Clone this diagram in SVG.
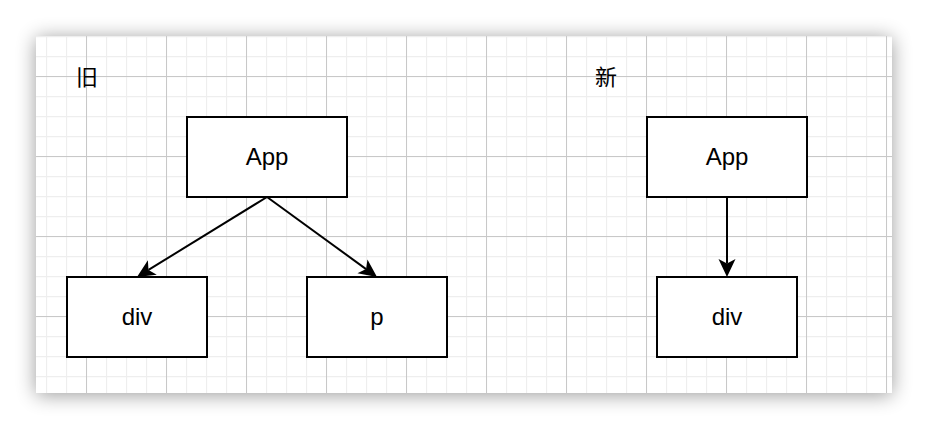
<svg xmlns="http://www.w3.org/2000/svg" width="928" height="430" viewBox="0 0 928 430">
  <defs>
    <filter id="shadow" x="-10%" y="-20%" width="120%" height="140%">
      <feGaussianBlur in="SourceAlpha" stdDeviation="10"/>
      <feOffset dx="0" dy="2" result="b"/>
      <feComponentTransfer><feFuncA type="linear" slope="0.4"/></feComponentTransfer>
      <feMerge><feMergeNode/><feMergeNode in="SourceGraphic"/></feMerge>
    </filter>
    <pattern id="minor" patternUnits="userSpaceOnUse" x="6" y="16" width="20" height="20">
      <path d="M0.5,0 V20 M0,0.5 H20" fill="none" stroke="#eeeeee" stroke-width="1.3"/>
    </pattern>
    <pattern id="major" patternUnits="userSpaceOnUse" x="6" y="-4" width="80" height="80">
      <path d="M0.5,0 V80 M0,0.5 H80" fill="none" stroke="#c8c8c8" stroke-width="1"/>
    </pattern>
    <marker id="arrow" markerUnits="userSpaceOnUse" viewBox="-5 -9 19 18" refX="0" refY="0" markerWidth="19" markerHeight="18" orient="auto" overflow="visible">
      <path d="M13.5,0 L-4.5,-8.5 L0,0 L-4.5,8.5 Z" fill="#000"/>
    </marker>
    <style>
      .node rect { fill: #ffffff; stroke: #000000; stroke-width: 2; }
      .label { font-family: "Liberation Sans", Arial, sans-serif; font-size: 24px; fill: #000; text-anchor: middle; }
      .title { font-family: "Liberation Sans", "Noto Sans CJK SC", sans-serif; font-size: 22px; fill: #000; }
      .edge { fill: none; stroke: #000; stroke-width: 2; marker-end: url(#arrow); }
    </style>
  </defs>

  <rect x="0" y="0" width="928" height="430" fill="#ffffff"/>
  <g id="canvas">
    <rect x="36" y="36" width="856" height="357" fill="#ffffff" filter="url(#shadow)"/>
    <rect x="36" y="36" width="856" height="357" fill="url(#minor)"/>
    <rect x="36" y="36" width="856" height="357" fill="url(#major)"/>
  </g>

  <text class="title" x="76" y="85">旧</text>
  <text class="title" x="595" y="85">新</text>

  <g id="connectors">
    <line class="edge" x1="267" y1="197" x2="148.5" y2="269.9"/>
    <line class="edge" x1="267" y1="197" x2="366.1" y2="269.1"/>
    <line class="edge" x1="727" y1="197" x2="727" y2="263.5"/>
  </g>

  <g id="app-old" class="node">
    <rect x="187" y="117" width="160" height="80"/>
    <text class="label" x="267" y="165">App</text>
  </g>
  <g id="div-old" class="node">
    <rect x="67" y="277" width="140" height="80"/>
    <text class="label" x="137" y="325">div</text>
  </g>
  <g id="p-old" class="node">
    <rect x="307" y="277" width="140" height="80"/>
    <text class="label" x="377" y="325">p</text>
  </g>
  <g id="app-new" class="node">
    <rect x="647" y="117" width="160" height="80"/>
    <text class="label" x="727" y="165">App</text>
  </g>
  <g id="div-new" class="node">
    <rect x="657" y="277" width="140" height="80"/>
    <text class="label" x="727" y="325">div</text>
  </g>
</svg>
